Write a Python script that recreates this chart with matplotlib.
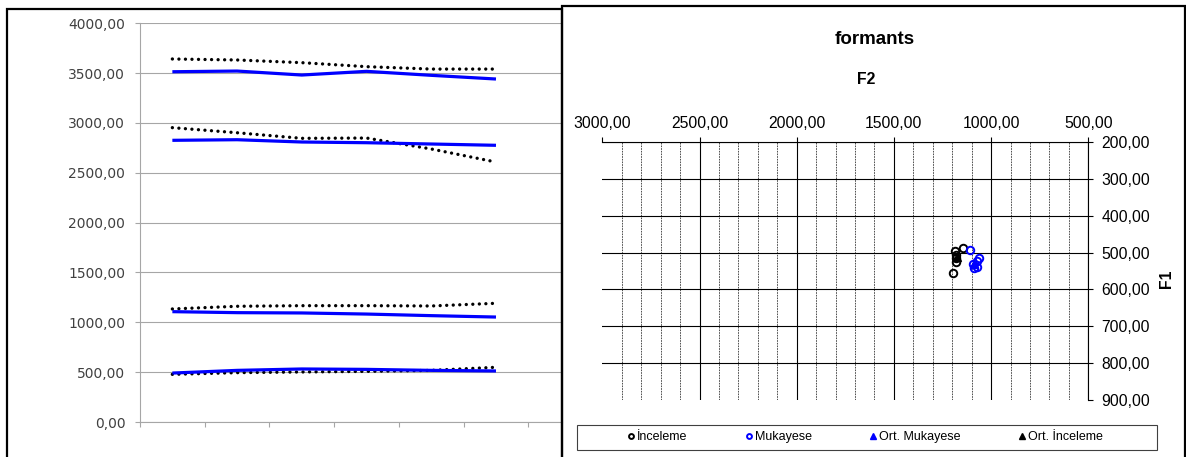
import numpy as np
import matplotlib
matplotlib.use("Agg")
import matplotlib.pyplot as plt
from matplotlib.patches import Rectangle
from matplotlib.ticker import FuncFormatter, MultipleLocator

# ── Data: formant trajectories (left) ────────────────────────────────────────
points = [1, 2, 3, 4, 5, 6]
muk_f1 = [491, 518, 532, 528, 518, 512]
muk_f2 = [1107, 1097, 1094, 1083, 1067, 1053]
muk_f3 = [2826, 2832, 2809, 2802, 2789, 2776]
muk_f4 = [3514, 3521, 3481, 3518, 3478, 3441]
inc_f1 = [478, 495, 502, 508, 518, 549]
inc_f2 = [1134, 1161, 1167, 1167, 1164, 1191]
inc_f3 = [2953, 2902, 2846, 2849, 2739, 2608]
inc_f4 = [3642, 3632, 3605, 3565, 3541, 3541]

# ── Data: F1/F2 scatter (right) ──────────────────────────────────────────────
inc_sc_f2 = [1143, 1186, 1182, 1183, 1181, 1198]
inc_sc_f1 = [487, 496, 506, 515, 526, 557]
muk_sc_f2 = [1108, 1061, 1071, 1092, 1074, 1088]
muk_sc_f1 = [493, 516, 523, 530, 539, 542]
ort_muk = (1088, 532)
ort_inc = (1177, 512)

W, H = 1186, 457


def comma_fmt(v, pos=None):
    return f"{v:.2f}".replace(".", ",")


fig = plt.figure(figsize=(W / 100, H / 100), dpi=100)

# ── Left panel: line chart ───────────────────────────────────────────────────
ax1 = fig.add_axes([140 / W, 1 - 422 / H, (562 - 140) / W, (422 - 23.3) / H])
x = np.arange(len(points))
dot_style = dict(color="black", lw=2.4, ls=(0, (0.01, 1.95)),
                 dash_capstyle="round")
for series in (inc_f1, inc_f2, inc_f3, inc_f4):
    ax1.plot(x, series, **dot_style)
for series in (muk_f1, muk_f2, muk_f3, muk_f4):
    ax1.plot(x, series, color="#0000ff", lw=2.3, solid_capstyle="butt")

ax1.set_yticks(np.arange(0, 4001, 500))
ax1.set_xticks(np.arange(-0.5, 6.6, 1.0))
ax1.set_xticklabels([])
ax1.set_xlim(-0.5, 6.02)
ax1.set_ylim(0, 4000)
ax1.yaxis.set_major_formatter(FuncFormatter(comma_fmt))
ax1.grid(True, axis="y", color="#a6a6a6", lw=0.8)
ax1.set_axisbelow(True)
for side in ("top", "right"):
    ax1.spines[side].set_visible(False)
for side in ("left", "bottom"):
    ax1.spines[side].set_color("#a6a6a6")
    ax1.spines[side].set_linewidth(0.8)
ax1.tick_params(axis="both", direction="out", length=3.6, width=0.8,
                color="#a6a6a6")
ax1.tick_params(axis="y", labelsize=10, labelcolor="#404040", pad=7)

# ── Right panel: F1/F2 scatter ───────────────────────────────────────────────
ax2 = fig.add_axes([602.3 / W, 1 - 399.5 / H, (1088.3 - 602.3) / W,
                    (399.5 - 142.3) / H])
ax2.plot(inc_sc_f2, inc_sc_f1, ls="none", marker="o", ms=5.4, mfc="none",
         mec="black", mew=1.4, label="İnceleme")
ax2.plot(muk_sc_f2, muk_sc_f1, ls="none", marker="o", ms=5.4, mfc="none",
         mec="#0000ff", mew=1.4, label="Mukayese")
ax2.plot([ort_muk[0]], [ort_muk[1]], ls="none", marker="^", ms=6,
         color="#0000ff", label="Ort. Mukayese")
ax2.plot([ort_inc[0]], [ort_inc[1]], ls="none", marker="^", ms=6,
         color="black", label="Ort. İnceleme")

ax2.set_xticks(np.arange(500, 3001, 500))
ax2.set_yticks(np.arange(200, 901, 100))
ax2.set_xlim(3000, 500)
ax2.set_ylim(900, 200)
ax2.xaxis.set_minor_locator(MultipleLocator(100))
ax2.xaxis.set_major_formatter(FuncFormatter(comma_fmt))
ax2.yaxis.set_major_formatter(FuncFormatter(comma_fmt))
ax2.xaxis.tick_top()
ax2.yaxis.tick_right()
ax2.grid(True, which="major", color="black", lw=0.8)
ax2.grid(True, which="minor", axis="x", color="#333333", lw=0.6,
         ls=(0, (2.0, 1.2)))
ax2.set_axisbelow(True)
ax2.xaxis.get_major_ticks()[-1].gridline.set_visible(False)
ax2.yaxis.get_major_ticks()[-1].gridline.set_visible(False)
for side in ("left", "bottom"):
    ax2.spines[side].set_visible(False)
for side in ("top", "right"):
    ax2.spines[side].set_linewidth(0.8)
ax2.tick_params(axis="both", which="major", direction="out", length=3.6,
                width=0.8, labelsize=11.3)
ax2.tick_params(axis="x", which="major", pad=4.5)
ax2.tick_params(axis="y", which="major", pad=6)
ax2.tick_params(axis="x", which="minor", length=0)
for lbl in ax2.get_xticklabels() + ax2.get_yticklabels():
    lbl.set_fontfamily("Liberation Sans")

fig.text(875 / W, 1 - 40 / H, "formants", ha="center", va="center",
         fontsize=13.5, fontweight="bold", family="Liberation Sans")
fig.text(866 / W, 1 - 79 / H, "F2", ha="center", va="center",
         fontsize=11.3, fontweight="bold", family="Liberation Sans")
fig.text(1166 / W, 1 - 279 / H, "F1", ha="center", va="center",
         rotation=90, fontsize=11.3, fontweight="bold",
         family="Liberation Sans")

# legend in its own box under the scatter
handles, labels = ax2.get_legend_handles_labels()
fig.legend(handles, labels, loc="center", ncol=4, frameon=False,
           bbox_to_anchor=(865 / W, 1 - 437.3 / H),
           prop={"family": "Liberation Sans", "size": 9},
           handlelength=0.6, handletextpad=0.2, columnspacing=4.6,
           markerscale=0.65)
fig.add_artist(Rectangle((577.3 / W, 1 - 450 / H), (1156.7 - 577.3) / W,
                         (450 - 424.5) / H, fill=False, ec="#404040",
                         lw=0.8, transform=fig.transFigure))

# ── Panel borders ────────────────────────────────────────────────────────────
fig.add_artist(Rectangle((7 / W, -0.1), (562 - 7) / W, 1.1 - 9 / H,
                         fill=False, ec="black", lw=1.6,
                         transform=fig.transFigure))
fig.add_artist(Rectangle((562 / W, -0.1), (1185 - 562) / W, 1.1 - 6.5 / H,
                         fill=False, ec="black", lw=1.6,
                         transform=fig.transFigure))

fig.savefig("out.png", dpi=100)
